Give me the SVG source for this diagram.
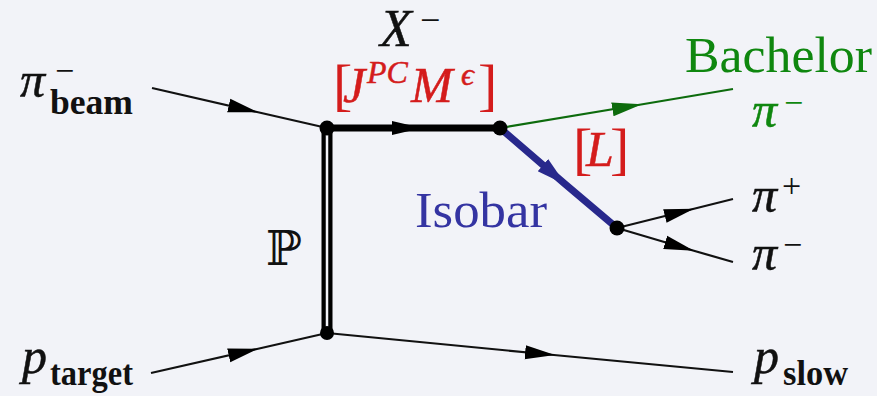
<svg xmlns="http://www.w3.org/2000/svg" width="877" height="396" viewBox="0 0 877 396">
<style>
.t{font-family:"Liberation Serif","Times New Roman",serif;fill:#111}
.i{font-style:italic;stroke:#111;stroke-width:0.5}
.b{font-weight:bold}
.red{fill:#d41c1c;stroke:#d41c1c}
.grn{fill:#0f870f;stroke:#0f870f}
.blu{fill:#3434a2}
.ln{fill:none;stroke:#111;stroke-width:2.2}
.dot{fill:#000}
</style>
<defs>
<marker id="arr" markerUnits="userSpaceOnUse" markerWidth="30" markerHeight="18" viewBox="0 0 30 18" refX="29" refY="9" orient="auto"><path d="M0,2 L30,9 L0,16 Z" fill="#000"/></marker>
<marker id="arrG" markerUnits="userSpaceOnUse" markerWidth="30" markerHeight="18" viewBox="0 0 30 18" refX="29" refY="9" orient="auto"><path d="M0,2 L30,9 L0,16 Z" fill="#0d6b0d"/></marker>
<marker id="arrB" markerUnits="userSpaceOnUse" markerWidth="30" markerHeight="20" viewBox="0 0 30 20" refX="29" refY="10" orient="auto"><path d="M0,2 L30,10 L0,18 Z" fill="#28288c"/></marker>
</defs>
<rect width="877" height="396" fill="#f2f3f8"/>
<g id="connectors">
<polyline class="ln" points="152,88 257,112 327,128" marker-mid="url(#arr)"/>
<polyline class="ln" points="151,373 257,349 327,333" marker-mid="url(#arr)"/>
<polyline class="ln" points="327,333 554,355 733,372" marker-mid="url(#arr)"/>
<line x1="327" y1="128" x2="327" y2="333" stroke="#000" stroke-width="11"/>
<line x1="327" y1="133" x2="327" y2="328" stroke="#f2f3f8" stroke-width="2.5"/>
<polyline points="327,128 421,128 500,128" fill="none" stroke="#000" stroke-width="7" marker-mid="url(#arr)"/>
<polyline points="500,128 641,104.5 733,89" fill="none" stroke="#0d6b0d" stroke-width="2.2" marker-mid="url(#arrG)"/>
<polyline points="500,128 565,184 617,228" fill="none" stroke="#28288c" stroke-width="7" marker-mid="url(#arrB)"/>
<polyline class="ln" points="617,228 693,209 733,199" marker-mid="url(#arr)"/>
<polyline class="ln" points="617,228 693,250.5 733,262" marker-mid="url(#arr)"/>
</g>
<g id="v-prod"><circle class="dot" cx="327" cy="128" r="7.5"/></g>
<g id="v-decay"><circle class="dot" cx="500" cy="128" r="7.5"/></g>
<g id="v-isobar"><circle class="dot" cx="617" cy="228" r="7.5"/></g>
<g id="v-target"><circle class="dot" cx="327" cy="333" r="7"/></g>
<g id="label-beam">
<text class="t i" x="20" y="97" font-size="50">π</text>
<text class="t" x="55" y="82" font-size="34">−</text>
<text class="t b" x="50" y="114" font-size="36" textLength="83" lengthAdjust="spacingAndGlyphs">beam</text>
</g>
<g id="label-X">
<text class="t i" x="380" y="46" font-size="52">X</text>
<text class="t" x="420" y="32" font-size="36">−</text>
</g>
<g id="label-JPC">
<text class="t red" x="333" y="104" font-size="58" stroke-width="0">[</text>
<text class="t i red" x="343" y="102" font-size="50">J</text>
<text class="t i red" x="367" y="83" font-size="32">PC</text>
<text class="t i red" x="411" y="102" font-size="50">M</text>
<text class="t i red" x="461" y="85" font-size="32">ϵ</text>
<text class="t red" x="478" y="104" font-size="58" stroke-width="0">]</text>
</g>
<g id="label-bachelor">
<text class="t grn" x="685" y="72" font-size="50" stroke-width="0" textLength="187" lengthAdjust="spacingAndGlyphs">Bachelor</text>
<text class="t i grn" x="752" y="127" font-size="50">π</text>
<text class="t grn" x="784" y="114" font-size="34" stroke-width="0">−</text>
</g>
<g id="label-L">
<text class="t red" x="573" y="168" font-size="58" stroke-width="0">[</text>
<text class="t i red" x="586" y="166" font-size="50">L</text>
<text class="t red" x="610" y="168" font-size="58" stroke-width="0">]</text>
</g>
<g id="label-isobar">
<text class="t blu" x="415" y="227" font-size="50" textLength="132" lengthAdjust="spacingAndGlyphs">Isobar</text>
</g>
<g id="label-piplus">
<text class="t i" x="752" y="212" font-size="50">π</text>
<text class="t" x="782" y="197" font-size="34">+</text>
</g>
<g id="label-piminus">
<text class="t i" x="752" y="270" font-size="50">π</text>
<text class="t" x="783" y="256" font-size="34">−</text>
</g>
<g id="label-pomeron">
<text x="266" y="265" font-size="48" style="font-family:'DejaVu Serif','DejaVu Sans',serif;fill:#111">ℙ</text>
</g>
<g id="label-target">
<text class="t i" x="22" y="373" font-size="50">p</text>
<text class="t b" x="50" y="385" font-size="36" textLength="83" lengthAdjust="spacingAndGlyphs">target</text>
</g>
<g id="label-slow">
<text class="t i" x="754" y="373" font-size="50">p</text>
<text class="t b" x="783" y="385" font-size="36" textLength="65" lengthAdjust="spacingAndGlyphs">slow</text>
</g>
</svg>
